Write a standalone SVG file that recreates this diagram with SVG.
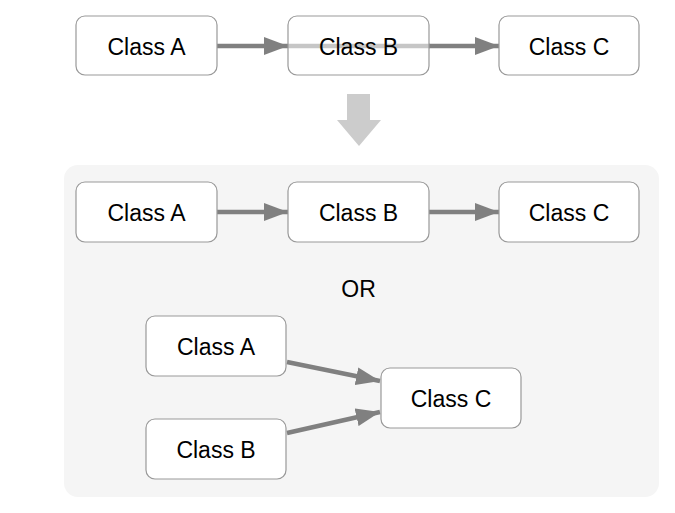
<svg xmlns="http://www.w3.org/2000/svg" width="675" height="513" viewBox="0 0 675 513">
<style>
.box{fill:#fff;stroke:#999;stroke-width:1.2}
.ghost{fill:#fff;fill-opacity:0.55;stroke:#999;stroke-width:1.2}
.lbl{font-family:"Liberation Sans",Arial,sans-serif;font-size:23px;fill:#000;text-anchor:middle}
.edge{stroke:#808080;stroke-width:4.5;fill:none}
</style>
<defs>
<marker id="ah" markerUnits="userSpaceOnUse" markerWidth="24" markerHeight="18" refX="24" refY="9" orient="auto">
<path d="M0,0 L24,9 L0,18 z" fill="#808080"/>
</marker>
</defs>
<rect x="0" y="0" width="675" height="513" fill="#fff"/>
<g id="container">
<rect x="64" y="165" width="595" height="332" rx="14" fill="#f5f5f5"/>
</g>
<g id="transform-arrow">
<polygon points="347,94 370,94 370,120 381,120 359,146 337,120 347,120" fill="#cccccc"/>
</g>
<g id="connectors">
<line class="edge" x1="217" y1="46" x2="288" y2="46" marker-end="url(#ah)"/>
<line class="edge" x1="288" y1="46" x2="430" y2="46"/>
<line class="edge" x1="429" y1="46" x2="499" y2="46" marker-end="url(#ah)"/>
<line class="edge" x1="217" y1="212" x2="288" y2="212" marker-end="url(#ah)"/>
<line class="edge" x1="429" y1="212" x2="499" y2="212" marker-end="url(#ah)"/>
<line class="edge" x1="287" y1="362" x2="380" y2="381" marker-end="url(#ah)"/>
<line class="edge" x1="287" y1="433" x2="380" y2="412" marker-end="url(#ah)"/>
</g>
<g id="top-a"><rect class="box" x="76" y="16" width="141" height="59" rx="9"/><text class="lbl" x="146.5" y="54.5">Class A</text></g>
<g id="top-b"><rect class="ghost" x="288" y="16" width="141" height="59" rx="9"/><text class="lbl" x="358.5" y="54.5">Class B</text></g>
<g id="top-c"><rect class="box" x="499" y="16" width="140" height="59" rx="9"/><text class="lbl" x="569" y="54.5">Class C</text></g>
<g id="row-a"><rect class="box" x="76" y="182" width="141" height="60" rx="9"/><text class="lbl" x="146.5" y="220.5">Class A</text></g>
<g id="row-b"><rect class="box" x="288" y="182" width="141" height="60" rx="9"/><text class="lbl" x="358.5" y="220.5">Class B</text></g>
<g id="row-c"><rect class="box" x="499" y="182" width="140" height="60" rx="9"/><text class="lbl" x="569" y="220.5">Class C</text></g>
<text class="lbl" x="358.5" y="297">OR</text>
<g id="alt-a"><rect class="box" x="146" y="316" width="140" height="60" rx="9"/><text class="lbl" x="216" y="354.5">Class A</text></g>
<g id="alt-b"><rect class="box" x="146" y="419" width="140" height="60" rx="9"/><text class="lbl" x="216" y="457.5">Class B</text></g>
<g id="alt-c"><rect class="box" x="381" y="368" width="140" height="60" rx="9"/><text class="lbl" x="451" y="406.5">Class C</text></g>
</svg>
